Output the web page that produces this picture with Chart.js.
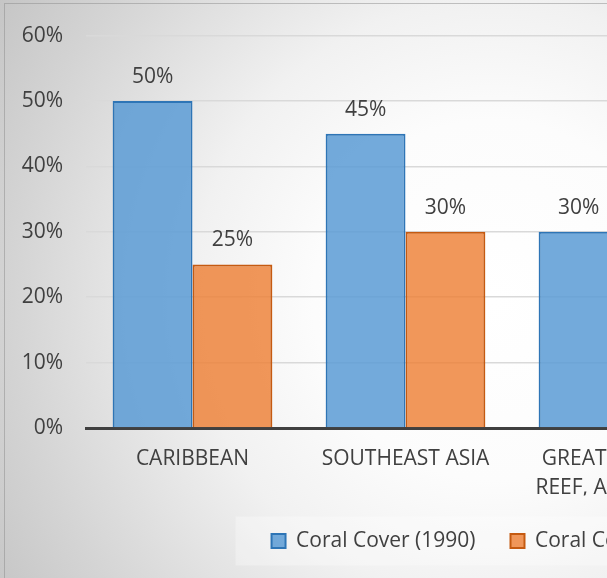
<!DOCTYPE html>
<html>
<head>
<meta charset="utf-8">
<script src="https://cdn.jsdelivr.net/npm/chart.js@4.4.1/dist/chart.umd.min.js"></script>
<style>
  html, body { margin: 0; padding: 0; overflow: hidden; background: #ffffff; }
  #wrap { position: absolute; left: 0; top: 0; }
</style>
</head>
<body>
<div id="wrap">
  <canvas id="coralChart" width="986" height="600"></canvas>
</div>
<script>
// regions (the chart is cropped on the right: the 4th slot is not visible)
var regions = ['CARIBBEAN', 'SOUTHEAST ASIA', ['GREAT BARRIER', 'REEF, AUSTRALIA'], ''];
var cover1990 = [50, 45, 30, null];
var cover2020 = [25, 30, null, null];
var seriesNames = ['Coral Cover (1990)', 'Coral Cover (2020)'];
var yTicks = [0, 10, 20, 30, 40, 50, 60];

var textColor = '#404040';
var fontFamily = '"Open Sans", "DejaVu Sans", sans-serif';
var fontSize = 21;

// grey radial background, border, and the pale legend panel
var backdrop = {
    id: 'backdrop',
    beforeDraw: function(chart) {
        var ctx = chart.ctx;
        var w = chart.width, h = chart.height;
        ctx.save();
        var g = ctx.createRadialGradient(w / 2, h / 2, 0, w / 2, h / 2, 600);
        g.addColorStop(0, '#ffffff');
        g.addColorStop(0.3, '#fcfcfc');
        g.addColorStop(0.5, '#f1f1f1');
        g.addColorStop(0.8, '#d4d4d4');
        g.addColorStop(1, '#c2c2c2');
        ctx.fillStyle = g;
        ctx.fillRect(0, 0, w, h);
        ctx.strokeStyle = 'rgba(140,140,140,0.5)';
        ctx.lineWidth = 1;
        ctx.strokeRect(4.5, 3.5, w, h);

        var lg = chart.legend;
        if (lg && lg.legendHitBoxes && lg.legendHitBoxes.length) {
            var hb = lg.legendHitBoxes;
            var first = hb[0], last = hb[hb.length - 1];
            var cy = first.top + first.height / 2;
            ctx.fillStyle = 'rgba(255,255,255,0.3)';
            ctx.fillRect(first.left - 36, cy - 24.5, (last.left + last.width + 36) - (first.left - 36), 49);
        }
        ctx.restore();
    }
};

// value labels above each bar
var valueLabels = {
    id: 'valueLabels',
    afterDatasetsDraw: function(chart) {
        var ctx = chart.ctx;
        ctx.save();
        ctx.font = fontSize + 'px ' + fontFamily;
        ctx.fillStyle = textColor;
        ctx.textAlign = 'center';
        ctx.textBaseline = 'middle';
        chart.data.datasets.forEach(function(ds, i) {
            var meta = chart.getDatasetMeta(i);
            meta.data.forEach(function(bar, j) {
                var v = ds.data[j];
                if (v === null || v === undefined) return;
                ctx.fillText(v + '%', bar.x, bar.y - 24);
            });
        });
        ctx.restore();
    }
};

new Chart(document.getElementById('coralChart'), {
    type: 'bar',
    data: {
        labels: regions,
        datasets: [
            {
                label: seriesNames[0],
                data: cover1990,
                backgroundColor: 'rgba(91,155,213,0.85)',
                borderColor: '#2e75b6',
                borderWidth: 2,
                categoryPercentage: 0.75,
                barPercentage: 1.0
            },
            {
                label: seriesNames[1],
                data: cover2020,
                backgroundColor: 'rgba(237,125,49,0.8)',
                borderColor: '#c55a11',
                borderWidth: 2,
                categoryPercentage: 0.75,
                barPercentage: 1.0
            }
        ]
    },
    options: {
        responsive: false,
        animation: false,
        layout: { padding: { left: 0, top: 33, right: 0, bottom: 38.5 } },
        plugins: {
            tooltip: { enabled: false },
            legend: {
                display: true,
                position: 'bottom',
                labels: {
                    boxWidth: 14,
                    boxHeight: 14,
                    padding: 35,
                    color: textColor,
                    font: { family: fontFamily, size: fontSize }
                }
            }
        },
        scales: {
            x: {
                grid: { display: false, drawTicks: false },
                border: { color: '#404040', width: 3 },
                ticks: {
                    color: textColor,
                    padding: 16.5,
                    maxRotation: 0,
                    autoSkip: false,
                    font: { family: fontFamily, size: fontSize, lineHeight: 29 / 21 }
                },
                afterFit: function(scale) { scale.height = 67.5; }
            },
            y: {
                min: yTicks[0],
                max: yTicks[yTicks.length - 1],
                grid: { color: '#d9d9d9', lineWidth: 1.5, drawTicks: false },
                border: { display: false },
                ticks: {
                    stepSize: yTicks[1] - yTicks[0],
                    color: textColor,
                    padding: 23,
                    font: { family: fontFamily, size: fontSize },
                    callback: function(v) { return v + '%'; }
                },
                afterFit: function(scale) { scale.width = 86; }
            },
            // empty right-hand margin so the legend stays centred on the whole chart
            spacer: {
                type: 'linear',
                position: 'right',
                display: true,
                grid: { display: false, drawTicks: false },
                border: { display: false },
                ticks: { display: false },
                afterFit: function(scale) { scale.width = 48; }
            }
        }
    },
    plugins: [backdrop, valueLabels]
});
</script>
</body>
</html>
